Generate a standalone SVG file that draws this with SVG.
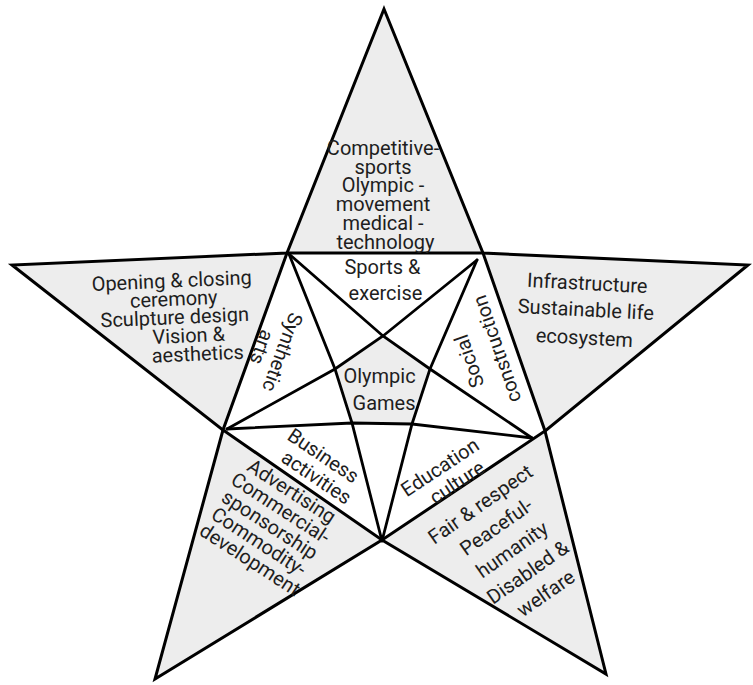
<svg xmlns="http://www.w3.org/2000/svg" width="753" height="685" viewBox="0 0 753 685">
  <style>
    .tip{fill:#ededed;stroke:#000;stroke-width:3;stroke-linejoin:miter}
    .core{fill:#fff;stroke:#000;stroke-width:3;stroke-linejoin:miter}
    .hub{fill:#ededed;stroke:none}
    .ln{fill:none;stroke:#000;stroke-width:2.8;stroke-linejoin:miter;stroke-linecap:round}
    .lbl{font-family:Roboto,"Liberation Sans",sans-serif;font-size:20px;fill:#1e1e1e;text-anchor:middle}
  </style>
  <rect width="753" height="685" fill="#fff"/>

  <!-- five-pointed outline, grey points -->
  <g id="outer-star">
    <polygon class="tip" points="384,9 483,253 748,265 545,431 606,674 382,540 155,679 223,430 12,265 287,253"/>
    <polygon class="core" points="287,253 483,253 545,431 382,540 223,430"/>
    <polygon class="hub" points="383,336 430,369 412,424 352,423 335,369"/>
  </g>

  <!-- inner pentagram -->
  <g id="connectors">
    <path class="ln" d="M289,254 L383,336 L430,369 L532,438"/>
    <path class="ln" d="M477,260 L383,336 L335,369 L227,429"/>
    <path class="ln" d="M289,254 L335,369 L352,423 L382,541"/>
    <path class="ln" d="M477,260 L430,369 L412,424 L382,541"/>
    <path class="ln" d="M227,429 L352,423 L412,424 L532,438"/>
  </g>

  <g id="tip-top">
    <text class="lbl">
      <tspan x="385.5" y="155">Competitive-</tspan>
      <tspan x="385.5" y="173.7">sports</tspan>
      <tspan x="385.5" y="192.4">Olympic -</tspan>
      <tspan x="385.5" y="211.1">movement</tspan>
      <tspan x="385.5" y="229.8">medical -</tspan>
      <tspan x="385.5" y="248.5">technology</tspan>
    </text>
  </g>

  <g id="tip-left">
    <text class="lbl" x="172" y="287.5" transform="rotate(-2.5 172 287.5)">Opening &amp; closing</text>
    <text class="lbl" x="174" y="305.8" transform="rotate(-2.5 174 305.8)">ceremony</text>
    <text class="lbl" x="175" y="324.1" transform="rotate(-2.5 175 324.1)">Sculpture design</text>
    <text class="lbl" x="189" y="342.4" transform="rotate(-2.5 189 342.4)">Vision &amp;</text>
    <text class="lbl" x="198" y="360.7" transform="rotate(-2.5 198 360.7)">aesthetics</text>
  </g>

  <g id="tip-right">
    <text class="lbl" x="587" y="290" transform="rotate(3 587 290)">Infrastructure</text>
    <text class="lbl" x="585.5" y="316.4" transform="rotate(3 585.5 316.4)">Sustainable life</text>
    <text class="lbl" x="584" y="344.5" transform="rotate(3 584 344.5)">ecosystem</text>
  </g>

  <g id="tip-bottom-left">
    <text class="lbl" transform="translate(272,526) rotate(33)">
      <tspan x="0" y="-33">Advertising</tspan>
      <tspan x="0" y="-13">Commercial-</tspan>
      <tspan x="0" y="7">sponsorship</tspan>
      <tspan x="0" y="27">Commodity-</tspan>
      <tspan x="0" y="47">development</tspan>
    </text>
  </g>

  <g id="tip-bottom-right">
    <text class="lbl" transform="translate(514,548) rotate(-35)">
      <tspan x="0" y="-48.2">Fair &amp; respect</tspan>
      <tspan x="0" y="-20.6">Peaceful-</tspan>
      <tspan x="0" y="7">humanity</tspan>
      <tspan x="0" y="34.6">Disabled &amp;</tspan>
      <tspan x="0" y="62.2">welfare</tspan>
    </text>
  </g>

  <g id="band-top">
    <text class="lbl">
      <tspan x="385" y="274.3">Sports &amp;</tspan>
      <tspan x="385.5" y="300">exercise</tspan>
    </text>
  </g>

  <g id="band-left">
    <text class="lbl" transform="translate(272,351) rotate(110)">
      <tspan x="0" y="-3.5">Synthetic</tspan>
      <tspan x="0" y="17.5">arts</tspan>
    </text>
  </g>

  <g id="band-right">
    <text class="lbl" transform="translate(482.5,354) rotate(-109)">
      <tspan x="0" y="-8">Social</tspan>
      <tspan x="0" y="22">construction</tspan>
    </text>
  </g>

  <g id="band-bottom-left">
    <text class="lbl" transform="translate(321,467) rotate(34)">
      <tspan x="-2" y="-3.9">Business</tspan>
      <tspan x="2" y="17.9">activities</tspan>
    </text>
  </g>

  <g id="band-bottom-right">
    <text class="lbl" transform="translate(449.5,474) rotate(-33.5)">
      <tspan x="-1.7" y="-4">Education</tspan>
      <tspan x="1.7" y="18">culture</tspan>
    </text>
  </g>

  <g id="hub">
    <text class="lbl">
      <tspan x="382" y="383.3">Olympic</tspan>
      <tspan x="384" y="410">Games</tspan>
    </text>
  </g>
</svg>
